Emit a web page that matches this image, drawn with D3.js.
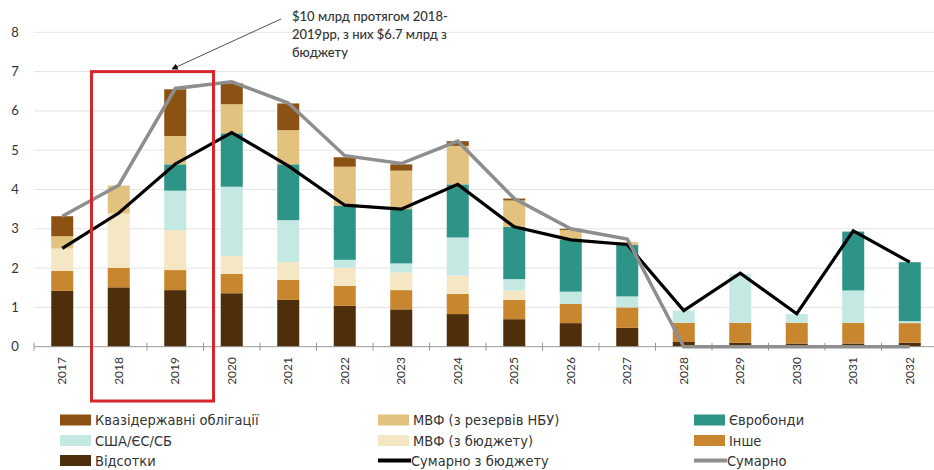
<!DOCTYPE html>
<html>
<head>
<meta charset="utf-8">
<script src="https://cdn.jsdelivr.net/npm/d3@7"></script>
<style>
  body { margin: 0; background: #fff; }
  text { font-family: Lato, "Open Sans", sans-serif; fill: #333; }
</style>
</head>
<body>
<script>
var width = 934,
    height = 470;

// data (bn USD)
var years = ["2017","2018","2019","2020","2021","2022","2023","2024","2025","2026","2027","2028","2029","2030","2031","2032"];
var vidsotky  = [1.42,1.51,1.44,1.36,1.19,1.04,0.95,0.83,0.70,0.60,0.48,0.12,0.10,0.08,0.08,0.10];
var inshe     = [0.51,0.50,0.51,0.49,0.51,0.51,0.49,0.51,0.49,0.49,0.52,0.49,0.51,0.53,0.53,0.50];
var mvfBudget = [0.57,1.38,1.02,0.46,0.45,0.46,0.45,0.47,0.24,0,0,0,0,0,0,0];
var ssha      = [0,0,1.00,1.76,1.07,0.20,0.23,0.97,0.29,0.31,0.28,0.31,1.24,0.22,0.82,0.05];
var evro      = [0,0,0.67,1.36,1.42,1.38,1.38,1.35,1.33,1.33,1.31,0,0,0,1.50,1.50];
var mvfRez    = [0.31,0.71,0.72,0.74,0.87,0.99,0.98,0.98,0.67,0.24,0.07,0,0,0,0,0];
var kvazi     = [0.51,0,1.19,0.53,0.68,0.24,0.16,0.12,0.05,0.03,0,0,0,0,0,0];
var sumBudget = [2.50,3.40,4.65,5.45,4.60,3.60,3.50,4.13,3.05,2.72,2.60,0.92,1.87,0.84,2.95,2.15];
var sumTotal  = [3.32,4.11,6.57,6.74,6.20,4.86,4.66,5.23,3.77,3.00,2.74,0,0,0,0,0];
var yTicks = [0,1,2,3,4,5,6,7,8];

var series = [
  {key: "vidsotky",  name: "Відсотки",                values: vidsotky,  color: "#4e2e0b"},
  {key: "inshe",     name: "Інше",                    values: inshe,     color: "#c8862f"},
  {key: "mvfBudget", name: "МВФ (з бюджету)",         values: mvfBudget, color: "#f5e6c4"},
  {key: "ssha",      name: "США/ЄС/СБ",               values: ssha,      color: "#c4e9e2"},
  {key: "evro",      name: "Євробонди",               values: evro,      color: "#2f9488"},
  {key: "mvfRez",    name: "МВФ (з резервів НБУ)",    values: mvfRez,    color: "#e3c27f"},
  {key: "kvazi",     name: "Квазідержавні облігації", values: kvazi,     color: "#8b5213"}
];

var table = years.map(function(y, i) {
  var row = {year: y};
  series.forEach(function(s) { row[s.key] = s.values[i]; });
  return row;
});

var svg = d3.select('body')
    .append('svg')
    .attr('width', width)
    .attr('height', height);

var x = d3.scaleBand()
    .domain(years)
    .range([34, 938]);

var y = d3.scaleLinear()
    .domain([0, 8])
    .range([346.7, 32.3]);

var barW = 22;

// grid
svg.append('g')
    .selectAll('line')
    .data(yTicks.slice(1))
    .enter()
    .append('line')
    .attr('x1', 34)
    .attr('x2', width)
    .attr('y1', d => y(d))
    .attr('y2', d => y(d))
    .attr('stroke', '#e4e4e4')
    .attr('stroke-width', 1);

// y labels
svg.append('g')
    .selectAll('text')
    .data(yTicks)
    .enter()
    .append('text')
    .attr('x', 15)
    .attr('y', d => y(d))
    .attr('dy', '0.35em')
    .attr('text-anchor', 'middle')
    .style('font-size', '13px')
    .text(d => d);

// stacked bars
var stack = d3.stack().keys(series.map(s => s.key));
var layers = stack(table);

svg.append('g')
    .selectAll('g')
    .data(layers)
    .enter()
    .append('g')
    .attr('fill', (d, i) => series[i].color)
    .selectAll('rect')
    .data(d => d)
    .enter()
    .append('rect')
    .attr('x', d => x(d.data.year) + x.bandwidth() / 2 - barW / 2)
    .attr('width', barW)
    .attr('y', d => y(d[1]))
    .attr('height', d => Math.max(0, y(d[0]) - y(d[1])));

// x axis
var xAxis = d3.axisBottom(x).tickSize(0).tickFormat('');
var ax = svg.append('g')
    .attr('transform', 'translate(0,' + y(0) + ')')
    .call(xAxis);
ax.select('.domain').attr('stroke', '#999').attr('d', 'M34,0H' + width);

svg.append('g')
    .selectAll('line')
    .data(years)
    .enter()
    .append('line')
    .attr('x1', d => x(d))
    .attr('x2', d => x(d))
    .attr('y1', y(0) - 4)
    .attr('y2', y(0) + 4)
    .attr('stroke', '#999');

svg.append('g')
    .selectAll('text')
    .data(years)
    .enter()
    .append('text')
    .attr('transform', d => 'translate(' + (x(d) + x.bandwidth() / 2) + ',357) rotate(-90)')
    .attr('dy', '0.35em')
    .attr('text-anchor', 'end')
    .style('font-size', '12px')
    .text(d => d);

// lines
var line = d3.line()
    .x((d, i) => x(years[i]) + x.bandwidth() / 2)
    .y(d => y(d));

svg.append('path')
    .datum(sumBudget)
    .attr('fill', 'none')
    .attr('stroke', '#000')
    .attr('stroke-width', 3.2)
    .attr('d', line);

svg.append('path')
    .datum(sumTotal)
    .attr('fill', 'none')
    .attr('stroke', '#8e8e8e')
    .attr('stroke-width', 3.5)
    .attr('d', line);

// red box round 2018-2019
svg.append('rect')
    .attr('x', x("2018") + 1)
    .attr('y', y(7))
    .attr('width', x("2019") + x.bandwidth() + 10 - x("2018") - 1)
    .attr('height', 401 - y(7))
    .attr('fill', 'none')
    .attr('stroke', '#d7262b')
    .attr('stroke-width', 3);

// annotation
svg.append('defs').append('marker')
    .attr('id', 'arr')
    .attr('viewBox', '0 0 10 10')
    .attr('refX', 9)
    .attr('refY', 5)
    .attr('markerWidth', 8)
    .attr('markerHeight', 8)
    .attr('orient', 'auto')
    .append('path')
    .attr('d', 'M0,0L10,5L0,10z')
    .attr('fill', '#111');

svg.append('line')
    .attr('x1', 281)
    .attr('y1', 19)
    .attr('x2', 172)
    .attr('y2', 69)
    .attr('stroke', '#222')
    .attr('stroke-width', 0.8)
    .attr('marker-end', 'url(#arr)');

var note = ["$10 млрд протягом 2018-", "2019рр, з них $6.7 млрд з", "бюджету"];
svg.append('g')
    .selectAll('text')
    .data(note)
    .enter()
    .append('text')
    .attr('x', 292)
    .attr('y', (d, i) => 21 + i * 18)
    .style('font-size', '13px')
    .style('font-weight', 500)
    .text(d => d);

// legend
var legendItems = [
  {name: "Квазідержавні облігації", color: "#8b5213", col: 0, row: 0},
  {name: "МВФ (з резервів НБУ)", color: "#e3c27f", col: 1, row: 0},
  {name: "Євробонди", color: "#2f9488", col: 2, row: 0},
  {name: "США/ЄС/СБ", color: "#c4e9e2", col: 0, row: 1},
  {name: "МВФ (з бюджету)", color: "#f5e6c4", col: 1, row: 1},
  {name: "Інше", color: "#c8862f", col: 2, row: 1},
  {name: "Відсотки", color: "#4e2e0b", col: 0, row: 2},
  {name: "Сумарно з бюджету", color: "#000", col: 1, row: 2, line: true},
  {name: "Сумарно", color: "#8e8e8e", col: 2, row: 2, line: true}
];
var colX = [60, 378, 694];
var rowY = [420, 440.5, 460.5];

var lg = svg.append('g')
    .selectAll('g')
    .data(legendItems)
    .enter()
    .append('g')
    .attr('transform', d => 'translate(' + colX[d.col] + ',' + rowY[d.row] + ')');

lg.filter(d => !d.line).append('rect')
    .attr('x', 0)
    .attr('y', -5.5)
    .attr('width', 31)
    .attr('height', 11)
    .attr('fill', d => d.color);

lg.filter(d => d.line).append('line')
    .attr('x1', 0)
    .attr('x2', 33)
    .attr('y1', 0)
    .attr('y2', 0)
    .attr('stroke', d => d.color)
    .attr('stroke-width', 4);

lg.append('text')
    .attr('x', d => d.line ? 33 : 35)
    .attr('dy', '0.35em')
    .style('font-size', '14.5px')
    .style('font-family', '"Liberation Sans Narrow", "DejaVu Sans Condensed", sans-serif')
    .text(d => d.name);
</script>
</body>
</html>
